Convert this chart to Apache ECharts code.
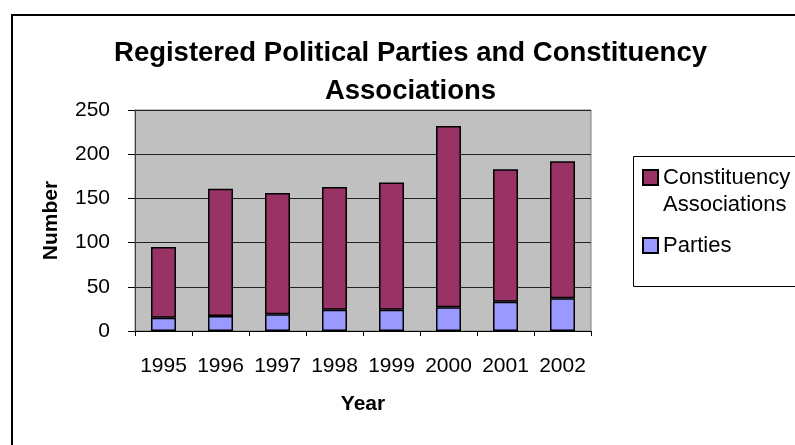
<!DOCTYPE html>
<html>
<head>
<meta charset="utf-8">
<script src="https://cdn.jsdelivr.net/npm/echarts@6/dist/echarts.min.js"></script>
<style>html,body{margin:0;padding:0;background:#fff;}#chart{width:795px;height:445px;}</style>
</head>
<body>
<div id="chart"></div>
<script>
var years = ['1995','1996','1997','1998','1999','2000','2001','2002'];
var parties = [15, 17, 19, 24, 24, 27, 33, 37];
var constituency = [80, 144, 137, 139, 144, 205, 150, 155];
var yTicks = {min: 0, max: 250, interval: 50};

var FONT = '"Liberation Sans", Arial, sans-serif';
var chart = echarts.init(document.getElementById('chart'), null, {renderer: 'canvas'});
chart.setOption({
  animation: false,
  backgroundColor: '#fff',
  textStyle: {fontFamily: FONT, color: '#000'},
  title: {
    text: 'Registered Political Parties and Constituency\nAssociations',
    left: 410.5, top: 34, textAlign: 'center', padding: 0,
    textStyle: {fontFamily: FONT, fontSize: 27.5, fontWeight: 'bold', color: '#000', lineHeight: 38}
  },
  graphic: [{
    type: 'rect', silent: true, z: -1,
    shape: {x: 12, y: 15, width: 800, height: 450},
    style: {fill: 'none', stroke: '#000', lineWidth: 2}
  }, {
    type: 'rect', silent: true,
    shape: {x: 633.5, y: 156.5, width: 200, height: 130},
    style: {fill: '#fff', stroke: '#000', lineWidth: 1}
  }],
  legend: [{
    data: ['Constituency Associations'],
    left: 642, top: 137, padding: 0, z: 10,
    icon: 'rect', itemWidth: 15, itemHeight: 15, itemGap: 5,
    formatter: function (n) { return ' \n' + n.replace(' ', '\n'); },
    textStyle: {fontFamily: FONT, fontSize: 22, color: '#000', lineHeight: 27}
  }, {
    data: ['Parties'],
    left: 642, top: 234.5, padding: 0, z: 10,
    icon: 'rect', itemWidth: 15, itemHeight: 15, itemGap: 5,
    textStyle: {fontFamily: FONT, fontSize: 22, color: '#000'}
  }],
  grid: {
    left: 135, top: 110, width: 456, height: 221,
    show: true, backgroundColor: '#c0c0c0', borderColor: '#808080', borderWidth: 1
  },
  xAxis: {
    type: 'category', data: years,
    name: 'Year', nameLocation: 'middle', nameGap: 63,
    nameTextStyle: {fontFamily: FONT, fontSize: 21, fontWeight: 'bold', color: '#000'},
    axisLine: {lineStyle: {color: '#000', width: 1}},
    axisTick: {show: true, length: 5, alignWithLabel: false, lineStyle: {color: '#000'}},
    axisLabel: {fontFamily: FONT, fontSize: 21, color: '#000', margin: 25, interval: 0}
  },
  yAxis: {
    type: 'value', min: yTicks.min, max: yTicks.max, interval: yTicks.interval,
    name: 'Number', nameLocation: 'middle', nameGap: 73,
    nameTextStyle: {fontFamily: FONT, fontSize: 21, fontWeight: 'bold', color: '#000'},
    axisLine: {show: true, lineStyle: {color: '#404040', width: 1}},
    axisTick: {show: true, length: 7, lineStyle: {color: '#000'}},
    axisLabel: {fontFamily: FONT, fontSize: 21, color: '#000', margin: 25},
    splitLine: {show: true, lineStyle: {color: '#222', width: 1}}
  },
  series: [{
    name: 'Parties', type: 'bar', stack: 'total', data: parties,
    barWidth: 25,
    itemStyle: {color: '#9999ff', borderColor: '#000', borderWidth: 1.5}
  }, {
    name: 'Constituency Associations', type: 'bar', stack: 'total', data: constituency,
    barWidth: 25,
    itemStyle: {color: '#993366', borderColor: '#000', borderWidth: 1.5}
  }]
});
</script>
</body>
</html>
